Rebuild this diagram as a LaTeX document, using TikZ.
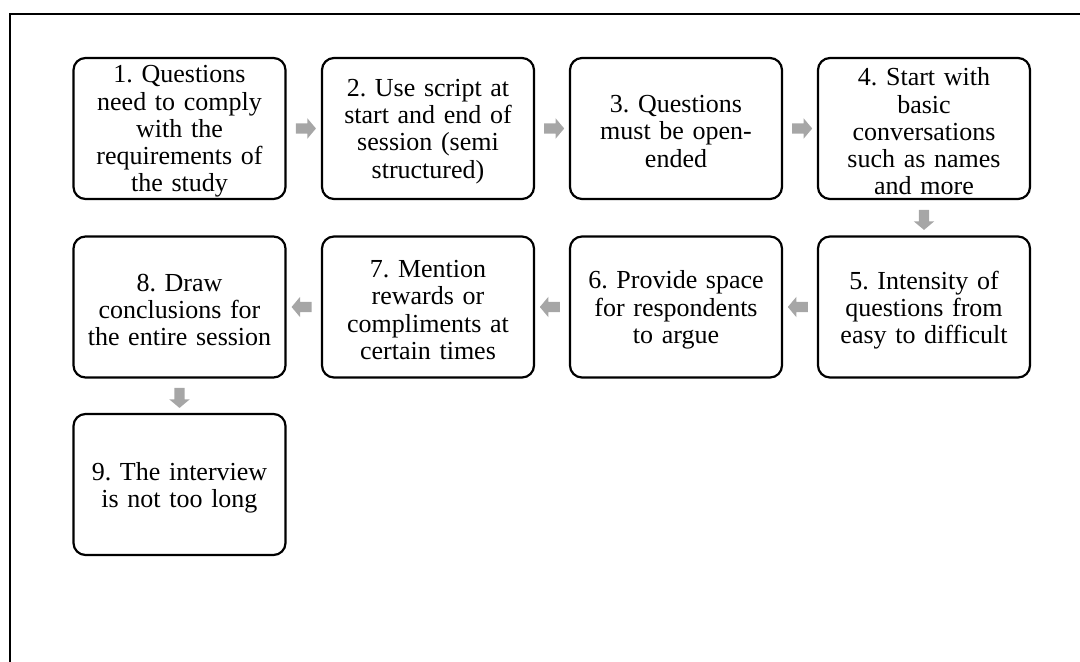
\documentclass[tikz,border=0pt]{standalone}
\usepackage{fontspec}
\setmainfont{Liberation Serif}
\usetikzlibrary{shapes.arrows}
\definecolor{arrowgray}{RGB}{166,166,166}
% a step: an outlined rounded box #1 at #2, with its text #3 set a little low
\newcommand\stepnode[3]{%
  \node[stepbox] (#1) at (#2) {};
  \node[steptext] (#1text) at ([yshift=-3bp]#1.center) {#3};}
\begin{document}
\frenchspacing
\begin{tikzpicture}[x=1bp,y=-1bp,
  stepbox/.style={draw=black, line width=2.2bp, rounded corners=12bp,
    minimum width=212bp, minimum height=141bp, inner sep=0pt},
  steptext/.style={inner sep=0pt, align=center, text width=208bp,
    font=\fontsize{26bp}{27.3bp}\selectfont},
  flowarrow/.style={single arrow, fill=arrowgray, draw=none,
    minimum height=20bp, inner xsep=0pt, inner ysep=5bp,
    single arrow head extend=5bp, single arrow tip angle=100,
    sloped, allow upside down}
]
\useasboundingbox (0,0) rectangle (1080,662);
% outer frame (left and top edges)
\draw[line width=2bp] (10,662) -- (10,14) -- (1080,14);

% first row
\stepnode{s1}{179.5,128.5}{1. Questions\\need to comply\\with the\\requirements of\\the study}
\stepnode{s2}{428,128.5}{2. Use script at\\start and end of\\session (semi\\structured)}
\stepnode{s3}{676,128.5}{3. Questions\\must be open-\\ended}
\stepnode{s4}{924,128.5}{4. Start with\\basic\\conversations\\such as names\\and more}
% second row (right to left)
\stepnode{s5}{924,307}{5. Intensity of\\questions from\\easy to difficult}
\stepnode{s6}{676,307}{6. Provide space\\for respondents\\to argue}
\stepnode{s7}{428,307}{7. Mention\\rewards or\\compliments at\\certain times}
\stepnode{s8}{179.5,307}{8. Draw\\conclusions for\\the entire session}
% third row
\stepnode{s9}{179.5,484.5}{9. The interview\\is not too long}

% block arrows between consecutive steps
\path (s1) -- node[flowarrow]{} (s2);
\path (s2) -- node[flowarrow]{} (s3);
\path (s3) -- node[flowarrow]{} (s4);
\path (s4) -- node[flowarrow]{} (s5);
\path (s5) -- node[flowarrow]{} (s6);
\path (s6) -- node[flowarrow]{} (s7);
\path (s7) -- node[flowarrow]{} (s8);
\path (s8) -- node[flowarrow]{} (s9);
\end{tikzpicture}
\end{document}
